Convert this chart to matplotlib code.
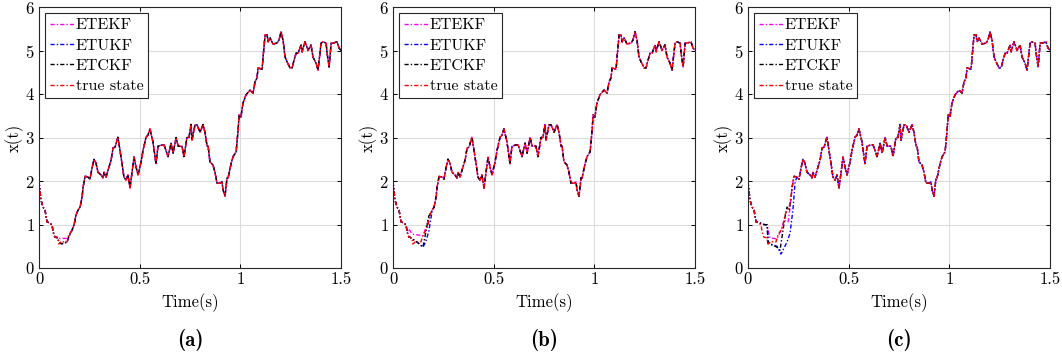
import numpy as np
import matplotlib.pyplot as plt

plt.rcParams['font.family'] = 'serif'
plt.rcParams['font.serif'] = ['cmr10']
plt.rcParams['axes.formatter.use_mathtext'] = True
plt.rcParams['mathtext.fontset'] = 'cm'

# true state x(t), shared by all three runs
t_true = [0.000, 0.010, 0.020, 0.030, 0.040, 0.050, 0.065, 0.070, 0.079, 0.094,
          0.099, 0.114, 0.124, 0.139, 0.149, 0.164, 0.174, 0.184, 0.194, 0.204,
          0.214, 0.219, 0.229, 0.243, 0.253, 0.263, 0.273, 0.283, 0.293, 0.308,
          0.318, 0.323, 0.333, 0.343, 0.358, 0.368, 0.378, 0.392, 0.402, 0.412,
          0.422, 0.432, 0.442, 0.452, 0.462, 0.472, 0.482, 0.492, 0.507, 0.517,
          0.532, 0.541, 0.551, 0.566, 0.581, 0.591, 0.611, 0.621, 0.641, 0.656,
          0.666, 0.681, 0.691, 0.710, 0.720, 0.735, 0.745, 0.755, 0.760, 0.775,
          0.785, 0.800, 0.815, 0.825, 0.835, 0.840, 0.849, 0.864, 0.874, 0.884,
          0.899, 0.909, 0.914, 0.924, 0.934, 0.939, 0.954, 0.964, 0.979, 0.989,
          0.994, 1.003, 1.013, 1.028, 1.048, 1.063, 1.073, 1.083, 1.088, 1.108,
          1.113, 1.123, 1.133, 1.138, 1.148, 1.162, 1.182, 1.192, 1.202, 1.212,
          1.222, 1.232, 1.247, 1.257, 1.267, 1.277, 1.287, 1.302, 1.307, 1.321,
          1.331, 1.336, 1.351, 1.361, 1.376, 1.386, 1.401, 1.411, 1.426, 1.431,
          1.441, 1.451, 1.461, 1.480, 1.490, 1.500]
x_true = [1.98, 1.56, 1.40, 1.33, 1.06, 1.04, 0.99, 0.83, 0.71, 0.69,
          0.55, 0.62, 0.60, 0.60, 0.76, 0.87, 0.99, 1.22, 1.33, 1.40,
          1.63, 1.86, 2.11, 2.09, 2.04, 2.29, 2.50, 2.41, 2.20, 2.14,
          2.07, 2.20, 2.09, 2.25, 2.48, 2.76, 2.78, 3.01, 2.71, 2.41,
          2.09, 2.02, 2.14, 1.84, 2.20, 2.55, 2.32, 2.14, 2.44, 2.71,
          3.01, 3.05, 3.20, 2.90, 2.40, 2.80, 2.83, 2.83, 2.56, 2.87,
          2.64, 3.00, 2.80, 2.80, 2.56, 3.00, 3.00, 3.30, 2.94, 3.29,
          3.29, 3.12, 3.30, 3.10, 2.80, 2.80, 2.44, 2.37, 2.20, 1.95,
          1.95, 1.98, 1.80, 1.65, 2.07, 2.07, 2.40, 2.56, 2.67, 3.17,
          3.52, 3.47, 3.79, 3.98, 4.09, 4.02, 4.28, 4.37, 4.60, 4.57,
          4.85, 5.36, 5.36, 5.20, 5.29, 5.15, 5.17, 5.24, 5.43, 5.24,
          4.85, 4.74, 4.60, 4.60, 4.78, 4.94, 4.94, 5.13, 4.97, 5.20,
          5.08, 5.00, 5.13, 4.85, 4.71, 4.55, 5.17, 5.20, 5.17, 4.94,
          4.62, 5.17, 5.17, 5.20, 5.06, 5.00]

# filter estimates differ from the true state only during the early transient
# (a)
ekf_a_t = [0.094, 0.104, 0.124, 0.139, 0.149]
ekf_a_x = [0.72, 0.68, 0.68, 0.68, 0.76]
ukf_a_t = [0.099, 0.114, 0.124, 0.139, 0.149]
ukf_a_x = [0.58, 0.55, 0.58, 0.58, 0.72]
ckf_a_t = [0.099, 0.114, 0.124, 0.139, 0.149]
ckf_a_x = [0.58, 0.56, 0.58, 0.60, 0.74]
# (b)
ekf_b_t = [0.079, 0.094, 0.124, 0.149, 0.168, 0.183]
ekf_b_x = [0.90, 0.78, 0.76, 0.74, 0.99, 1.25]
ukf_b_t = [0.084, 0.099, 0.124, 0.149, 0.164, 0.178, 0.194]
ukf_b_x = [0.71, 0.66, 0.58, 0.48, 0.62, 0.85, 1.30]
ckf_b_t = [0.084, 0.099, 0.124, 0.149, 0.164, 0.178]
ckf_b_x = [0.71, 0.66, 0.58, 0.48, 0.85, 1.20]
# (c)
ekf_c_t = [0.050, 0.079, 0.095, 0.109, 0.144, 0.169, 0.179, 0.199, 0.209]
ekf_c_x = [1.05, 1.00, 0.99, 0.69, 0.67, 0.92, 1.10, 1.06, 1.38]
ukf_c_t = [0.050, 0.079, 0.095, 0.100, 0.144, 0.164, 0.194, 0.209, 0.224, 0.234]
ukf_c_x = [1.05, 1.00, 0.99, 0.57, 0.50, 0.32, 0.60, 0.80, 1.38, 1.98]
ckf_c_t = [0.050, 0.079, 0.095, 0.100, 0.144, 0.159, 0.184, 0.194, 0.204]
ckf_c_x = [1.05, 1.00, 0.99, 0.57, 0.48, 0.41, 1.18, 1.40, 1.33]

labels = ['ETEKF', 'ETUKF', 'ETCKF', 'true state']
colors = ['#ff00ff', '#0000ff', 'black', 'red']
panel_names = ['(a)', '(b)', '(c)']
lefts = [39, 393, 748]


def splice(t_dev, x_dev):
    t = np.array(t_true)
    x = np.array(x_true)
    keep = (t < t_dev[0]) | (t > t_dev[-1])
    tt = np.concatenate([t[keep], t_dev])
    xx = np.concatenate([x[keep], x_dev])
    order = np.argsort(tt, kind='stable')
    return tt[order], xx[order]


runs = [
    [(ekf_a_t, ekf_a_x), (ukf_a_t, ukf_a_x), (ckf_a_t, ckf_a_x)],
    [(ekf_b_t, ekf_b_x), (ukf_b_t, ukf_b_x), (ckf_b_t, ckf_b_x)],
    [(ekf_c_t, ekf_c_x), (ukf_c_t, ukf_c_x), (ckf_c_t, ckf_c_x)],
]

fig = plt.figure(figsize=(10.62, 3.6), dpi=100)

for k in range(3):
    ax = fig.add_axes([lefts[k] / 1062, 92 / 360, 302 / 1062, 261 / 360])
    for j, (td, xd) in enumerate(runs[k]):
        tt, xx = splice(td, xd)
        ax.plot(tt, xx, '-.', color=colors[j], lw=1.0, label=labels[j],
                dashes=(3, 1.5, 1, 1.5))
    ax.plot(t_true, x_true, '-.', color=colors[3], lw=1.0, label=labels[3],
            dashes=(3, 1.5, 1, 1.5))

    ax.set_xlim(0, 1.5)
    ax.set_ylim(0, 6)
    ax.set_xticks([0, 0.5, 1, 1.5])
    ax.set_xticklabels(['0', '0.5', '1', '1.5'])
    ax.set_yticks(range(7))
    ax.grid(True, color='#dcdcdc', lw=0.8)
    ax.set_axisbelow(True)
    ax.tick_params(direction='in', top=True, right=True, labelsize=12,
                   length=3, width=0.7, pad=3)
    for s in ax.spines.values():
        s.set_linewidth(0.8)
        s.set_color('#262626')
    ax.set_xlabel('Time(s)', fontsize=12, labelpad=4)
    ax.set_ylabel('x(t)', fontsize=12, labelpad=1)

    leg = ax.legend(loc='upper left', fontsize=11.5, handlelength=1.5,
                    handletextpad=0.1, labelspacing=0.38, borderpad=0.3,
                    borderaxespad=0.4, fancybox=False, framealpha=1)
    leg.get_frame().set_edgecolor('#262626')
    leg.get_frame().set_linewidth(0.8)

    fig.text((lefts[k] + 151) / 1062, 20 / 360, panel_names[k],
             ha='center', va='center', fontsize=15, family='cmb10')

fig.savefig('out.png', dpi=100)
